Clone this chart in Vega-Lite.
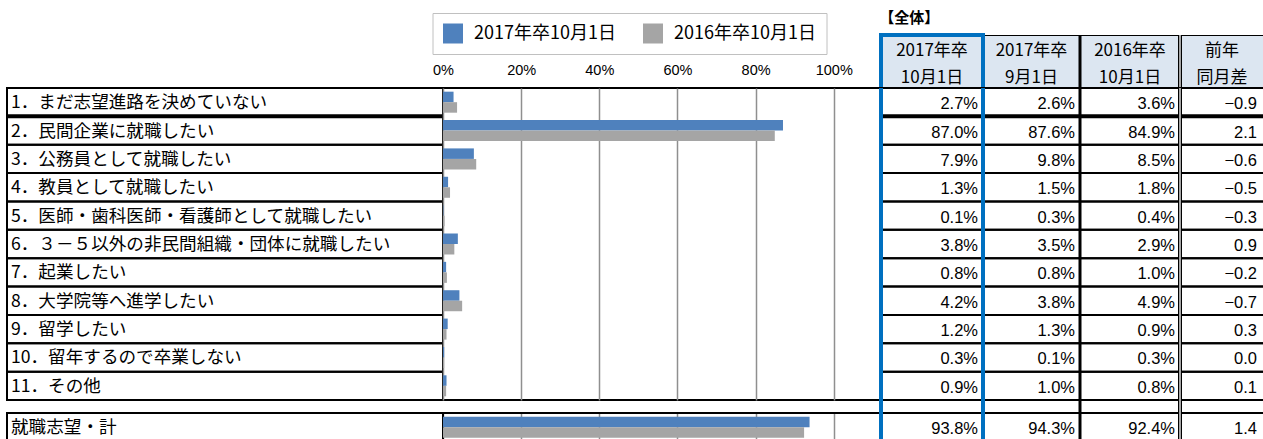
{
  "$schema": "https://vega.github.io/schema/vega-lite/v6.json",
  "background": "white",
  "padding": {"left": 5, "top": 11, "right": 0, "bottom": 0},
  "autosize": {"type": "pad"},
  "config": {"view": {"stroke": null}, "text": {"color": "#000"}},
  "datasets": {
    "items": [
      {"項目": "1．まだ志望進路を決めていない", "2017年卒10月1日": 0.027, "2017年卒9月1日": 0.026, "2016年卒10月1日": 0.036, "前年同月差": -0.9},
      {"項目": "2．民間企業に就職したい", "2017年卒10月1日": 0.870, "2017年卒9月1日": 0.876, "2016年卒10月1日": 0.849, "前年同月差": 2.1},
      {"項目": "3．公務員として就職したい", "2017年卒10月1日": 0.079, "2017年卒9月1日": 0.098, "2016年卒10月1日": 0.085, "前年同月差": -0.6},
      {"項目": "4．教員として就職したい", "2017年卒10月1日": 0.013, "2017年卒9月1日": 0.015, "2016年卒10月1日": 0.018, "前年同月差": -0.5},
      {"項目": "5．医師・歯科医師・看護師として就職したい", "2017年卒10月1日": 0.001, "2017年卒9月1日": 0.003, "2016年卒10月1日": 0.004, "前年同月差": -0.3},
      {"項目": "6．３－５以外の非民間組織・団体に就職したい", "2017年卒10月1日": 0.038, "2017年卒9月1日": 0.035, "2016年卒10月1日": 0.029, "前年同月差": 0.9},
      {"項目": "7．起業したい", "2017年卒10月1日": 0.008, "2017年卒9月1日": 0.008, "2016年卒10月1日": 0.010, "前年同月差": -0.2},
      {"項目": "8．大学院等へ進学したい", "2017年卒10月1日": 0.042, "2017年卒9月1日": 0.038, "2016年卒10月1日": 0.049, "前年同月差": -0.7},
      {"項目": "9．留学したい", "2017年卒10月1日": 0.012, "2017年卒9月1日": 0.013, "2016年卒10月1日": 0.009, "前年同月差": 0.3},
      {"項目": "10．留年するので卒業しない", "2017年卒10月1日": 0.003, "2017年卒9月1日": 0.001, "2016年卒10月1日": 0.003, "前年同月差": 0.0},
      {"項目": "11．その他", "2017年卒10月1日": 0.009, "2017年卒9月1日": 0.010, "2016年卒10月1日": 0.008, "前年同月差": 0.1}
    ],
    "total": [
      {"項目": "就職志望・計", "2017年卒10月1日": 0.938, "2017年卒9月1日": 0.943, "2016年卒10月1日": 0.924, "前年同月差": 1.4}
    ]
  },
  "columns": 6,
  "spacing": 0,
  "bounds": "flush",
  "concat": [
    {"width": 436, "height": 53, "data": {"values": [{}]}, "mark": "text", "encoding": {"text": {"value": ""}}},
    {"width": 438, "height": 53, "data": {"values": [{}]}, "mark": "text", "encoding": {"text": {"value": ""}}},
    {
      "width": 102, "height": 53,
      "view": {"fill": "#DCE6F1"},
      "title": {"text": "【全体】", "anchor": "start", "fontSize": 15, "fontWeight": "bold", "font": "Noto Sans CJK JP", "color": "#000", "baseline": "bottom", "offset": 6, "dx": 1, "dy": 15},
      "data": {"values": [{"見出し": "2017年卒\n10月1日"}]},
      "layer": [
        {"mark": {"type": "text", "lineBreak": "\n", "lineHeight": 27, "fontSize": 17, "font": "Noto Sans CJK JP", "dy": -11}, "encoding": {"text": {"field": "見出し", "type": "nominal"}}},
        {"mark": {"type": "rule", "color": "#0070C0", "strokeWidth": 4, "strokeCap": "square"}, "encoding": {"x": {"value": 0}}},
        {"mark": {"type": "rule", "color": "#0070C0", "strokeWidth": 4, "strokeCap": "square"}, "encoding": {"y": {"value": 0}}}
      ]
    },
    {
      "width": 97, "height": 53,
      "view": {"fill": "#DCE6F1", "stroke": "#000", "strokeWidth": 1},
      "data": {"values": [{"見出し": "2017年卒\n9月1日"}]},
      "layer": [
        {"mark": {"type": "text", "lineBreak": "\n", "lineHeight": 27, "fontSize": 17, "font": "Noto Sans CJK JP", "dy": -11}, "encoding": {"text": {"field": "見出し", "type": "nominal"}}},
        {"mark": {"type": "rule", "color": "#0070C0", "strokeWidth": 4, "strokeCap": "square"}, "encoding": {"x": {"value": 0}}}
      ]
    },
    {
      "width": 100, "height": 53,
      "view": {"fill": "#DCE6F1", "stroke": "#000", "strokeWidth": 1},
      "data": {"values": [{"見出し": "2016年卒\n10月1日"}]},
      "layer": [
        {"mark": {"type": "text", "lineBreak": "\n", "lineHeight": 27, "fontSize": 17, "font": "Noto Sans CJK JP", "dy": -11}, "encoding": {"text": {"field": "見出し", "type": "nominal"}}},
        {"mark": {"type": "rule", "color": "#000", "strokeWidth": 3}, "encoding": {"x": {"value": 0}}}
      ]
    },
    {
      "width": 84, "height": 53,
      "view": {"fill": "#DCE6F1", "stroke": "#000", "strokeWidth": 1},
      "data": {"values": [{"見出し": "前年\n同月差"}]},
      "layer": [
        {"mark": {"type": "text", "lineBreak": "\n", "lineHeight": 27, "fontSize": 17, "font": "Noto Sans CJK JP", "dy": -11}, "encoding": {"text": {"field": "見出し", "type": "nominal"}}},
        {"mark": {"type": "rule", "color": "#000", "strokeWidth": 4}, "encoding": {"x": {"value": 0}}},
        {"mark": {"type": "rule", "color": "#fff", "strokeWidth": 1.3}, "encoding": {"x": {"value": 0}}}
      ]
    },

    {
      "width": 436, "height": 312,
      "data": {"name": "items"},
      "layer": [
        {"mark": {"type": "rect", "fill": "transparent", "stroke": "#000", "strokeWidth": 2},
         "encoding": {"y": {"field": "項目", "type": "nominal", "sort": null, "axis": null, "scale": {"paddingInner": 0, "paddingOuter": 0}}}},
        {"transform": [{"filter": "datum['項目'] === '1．まだ志望進路を決めていない'"}],
         "mark": {"type": "rule", "color": "#000", "strokeWidth": 4},
         "encoding": {"y": {"field": "項目", "type": "nominal", "sort": null, "axis": null, "bandPosition": 1}}},
        {"mark": {"type": "text", "align": "left", "baseline": "middle", "dx": 4, "dy": 1, "fontSize": 17.6, "font": "Noto Sans CJK JP"},
         "encoding": {"y": {"field": "項目", "type": "nominal", "sort": null, "axis": null}, "x": {"value": 0}, "text": {"field": "項目", "type": "nominal"}}}
      ]
    },
    {
      "width": 438, "height": 312,
      "data": {"name": "items"},
      "view": {"stroke": "#000", "strokeWidth": 2},
      "transform": [{"fold": ["2017年卒10月1日", "2016年卒10月1日"], "as": ["系列", "値"]}],
      "mark": {"type": "bar"},
      "encoding": {
        "y": {"field": "項目", "type": "nominal", "sort": null, "axis": null, "scale": {"paddingInner": 0, "paddingOuter": 0}},
        "yOffset": {"field": "系列", "type": "nominal", "sort": ["2017年卒10月1日", "2016年卒10月1日"], "scale": {"paddingInner": 0, "paddingOuter": 0.35}},
        "x": {"field": "値", "type": "quantitative", "scale": {"domain": [0, 1.1208], "nice": false},
              "axis": {"orient": "top", "values": [0, 0.2, 0.4, 0.6, 0.8, 1], "format": "%", "title": null, "domain": false, "ticks": false, "tickSize": 0, "labelPadding": 11, "labelFontSize": 14.5, "labelFont": "Liberation Sans", "labelColor": "#000", "labelFlush": false, "grid": true, "gridColor": "#8f8f8f", "gridWidth": 1.5}},
        "color": {"field": "系列", "type": "nominal", "sort": ["2017年卒10月1日", "2016年卒10月1日"],
                  "scale": {"domain": ["2017年卒10月1日", "2016年卒10月1日"], "range": ["#4F81BD", "#A5A5A5"]},
                  "legend": {"orient": "none", "legendX": 425.5, "legendY": -22, "direction": "horizontal", "title": null, "symbolType": "square", "symbolSize": 400, "symbolStrokeWidth": 0, "labelFontSize": 18, "labelFont": "Noto Sans CJK JP", "labelColor": "#000", "labelOffset": 11, "labelLimit": 400, "padding": 10.5, "columnPadding": 27, "strokeColor": "#c0c0c0", "fillColor": "white", "labelExpr": "datum.value === '2016年卒10月1日' ? datum.label + '\u00a0\u00a0\u00a0\u00a0\u00a0' : datum.label"}}
      }
    },
    {
      "width": 102, "height": 312,
      "data": {"name": "items"},
      "layer": [
        {"mark": {"type": "rect", "fill": "transparent", "stroke": "#000", "strokeWidth": 2},
         "encoding": {"y": {"field": "項目", "type": "nominal", "sort": null, "axis": null, "scale": {"paddingInner": 0, "paddingOuter": 0}}}},
        {"transform": [{"filter": "datum['項目'] === '1．まだ志望進路を決めていない'"}],
         "mark": {"type": "rule", "color": "#000", "strokeWidth": 4},
         "encoding": {"y": {"field": "項目", "type": "nominal", "sort": null, "axis": null, "bandPosition": 1}}},
        {"mark": {"type": "text", "align": "right", "baseline": "middle", "dx": -5, "dy": 2, "fontSize": 16.5, "font": "Liberation Sans"},
         "encoding": {"y": {"field": "項目", "type": "nominal", "sort": null, "axis": null}, "x": {"value": "width"}, "text": {"field": "2017年卒10月1日", "type": "quantitative", "format": ".1%"}}},
        {"data": {"values": [{}]}, "mark": {"type": "rule", "color": "#0070C0", "strokeWidth": 4}, "encoding": {"x": {"value": 0}}}
      ]
    },
    {
      "width": 97, "height": 312,
      "data": {"name": "items"},
      "layer": [
        {"mark": {"type": "rect", "fill": "transparent", "stroke": "#000", "strokeWidth": 2},
         "encoding": {"y": {"field": "項目", "type": "nominal", "sort": null, "axis": null, "scale": {"paddingInner": 0, "paddingOuter": 0}}}},
        {"transform": [{"filter": "datum['項目'] === '1．まだ志望進路を決めていない'"}],
         "mark": {"type": "rule", "color": "#000", "strokeWidth": 4},
         "encoding": {"y": {"field": "項目", "type": "nominal", "sort": null, "axis": null, "bandPosition": 1}}},
        {"mark": {"type": "text", "align": "right", "baseline": "middle", "dx": -5, "dy": 2, "fontSize": 16.5, "font": "Liberation Sans"},
         "encoding": {"y": {"field": "項目", "type": "nominal", "sort": null, "axis": null}, "x": {"value": "width"}, "text": {"field": "2017年卒9月1日", "type": "quantitative", "format": ".1%"}}},
        {"data": {"values": [{}]}, "mark": {"type": "rule", "color": "#0070C0", "strokeWidth": 4}, "encoding": {"x": {"value": 0}}}
      ]
    },
    {
      "width": 100, "height": 312,
      "data": {"name": "items"},
      "layer": [
        {"mark": {"type": "rect", "fill": "transparent", "stroke": "#000", "strokeWidth": 2},
         "encoding": {"y": {"field": "項目", "type": "nominal", "sort": null, "axis": null, "scale": {"paddingInner": 0, "paddingOuter": 0}}}},
        {"transform": [{"filter": "datum['項目'] === '1．まだ志望進路を決めていない'"}],
         "mark": {"type": "rule", "color": "#000", "strokeWidth": 4},
         "encoding": {"y": {"field": "項目", "type": "nominal", "sort": null, "axis": null, "bandPosition": 1}}},
        {"mark": {"type": "text", "align": "right", "baseline": "middle", "dx": -5, "dy": 2, "fontSize": 16.5, "font": "Liberation Sans"},
         "encoding": {"y": {"field": "項目", "type": "nominal", "sort": null, "axis": null}, "x": {"value": "width"}, "text": {"field": "2016年卒10月1日", "type": "quantitative", "format": ".1%"}}},
        {"data": {"values": [{}]}, "mark": {"type": "rule", "color": "#000", "strokeWidth": 3}, "encoding": {"x": {"value": 0}}}
      ]
    },
    {
      "width": 84, "height": 312,
      "data": {"name": "items"},
      "layer": [
        {"mark": {"type": "rect", "fill": "transparent", "stroke": "#000", "strokeWidth": 2},
         "encoding": {"y": {"field": "項目", "type": "nominal", "sort": null, "axis": null, "scale": {"paddingInner": 0, "paddingOuter": 0}}}},
        {"transform": [{"filter": "datum['項目'] === '1．まだ志望進路を決めていない'"}],
         "mark": {"type": "rule", "color": "#000", "strokeWidth": 4},
         "encoding": {"y": {"field": "項目", "type": "nominal", "sort": null, "axis": null, "bandPosition": 1}}},
        {"mark": {"type": "text", "align": "right", "baseline": "middle", "dx": -7, "dy": 2, "fontSize": 16.5, "font": "Liberation Sans"},
         "encoding": {"y": {"field": "項目", "type": "nominal", "sort": null, "axis": null}, "x": {"value": "width"}, "text": {"field": "前年同月差", "type": "quantitative", "format": ".1f"}}},
        {"data": {"values": [{}]}, "mark": {"type": "rule", "color": "#000", "strokeWidth": 4}, "encoding": {"x": {"value": 0}}},
        {"data": {"values": [{}]}, "mark": {"type": "rule", "color": "#fff", "strokeWidth": 1.3}, "encoding": {"x": {"value": 0}}}
      ]
    },

    {
      "width": 436, "height": 41,
      "data": {"name": "total"},
      "layer": [
        {"mark": {"type": "rect", "fill": "transparent", "stroke": "#000", "strokeWidth": 2},
         "encoding": {"y": {"field": "項目", "type": "nominal", "sort": null, "axis": null, "scale": {"range": [13, 41], "paddingInner": 0, "paddingOuter": 0}}}},
        {"mark": {"type": "text", "align": "left", "baseline": "middle", "dx": 4, "dy": 1, "fontSize": 17.6, "font": "Noto Sans CJK JP"},
         "encoding": {"y": {"field": "項目", "type": "nominal", "sort": null, "axis": null}, "x": {"value": 0}, "text": {"field": "項目", "type": "nominal"}}}
      ]
    },
    {
      "width": 438, "height": 41,
      "data": {"name": "total"},
      "layer": [
        {"mark": {"type": "rect", "fill": "transparent", "stroke": "#000", "strokeWidth": 2},
         "encoding": {"y": {"field": "項目", "type": "nominal", "sort": null, "axis": null, "scale": {"range": [13, 41], "paddingInner": 0, "paddingOuter": 0}}}},
        {"transform": [{"fold": ["2017年卒10月1日", "2016年卒10月1日"], "as": ["系列", "値"]}],
         "mark": {"type": "bar"},
         "encoding": {
           "y": {"field": "項目", "type": "nominal", "sort": null, "axis": null},
           "yOffset": {"field": "系列", "type": "nominal", "sort": ["2017年卒10月1日", "2016年卒10月1日"], "scale": {"paddingInner": 0, "paddingOuter": 0.35}},
           "x": {"field": "値", "type": "quantitative", "scale": {"domain": [0, 1.1208], "nice": false},
                 "axis": {"orient": "top", "values": [0, 0.2, 0.4, 0.6, 0.8, 1], "labels": false, "title": null, "domain": false, "ticks": false, "grid": true, "gridColor": "#8f8f8f", "gridWidth": 1.5}},
           "color": {"field": "系列", "type": "nominal", "sort": ["2017年卒10月1日", "2016年卒10月1日"],
                     "scale": {"domain": ["2017年卒10月1日", "2016年卒10月1日"], "range": ["#4F81BD", "#A5A5A5"]}, "legend": null}
         }}
      ]
    },
    {
      "width": 102, "height": 41,
      "data": {"name": "total"},
      "layer": [
        {"mark": {"type": "rect", "fill": "transparent", "stroke": "#000", "strokeWidth": 2},
         "encoding": {"y": {"field": "項目", "type": "nominal", "sort": null, "axis": null, "scale": {"range": [13, 41], "paddingInner": 0, "paddingOuter": 0}}}},
        {"mark": {"type": "text", "align": "right", "baseline": "middle", "dx": -5, "dy": 2, "fontSize": 16.5, "font": "Liberation Sans"},
         "encoding": {"y": {"field": "項目", "type": "nominal", "sort": null, "axis": null}, "x": {"value": "width"}, "text": {"field": "2017年卒10月1日", "type": "quantitative", "format": ".1%"}}},
        {"data": {"values": [{}]}, "mark": {"type": "rule", "color": "#0070C0", "strokeWidth": 4}, "encoding": {"x": {"value": 0}}}
      ]
    },
    {
      "width": 97, "height": 41,
      "data": {"name": "total"},
      "layer": [
        {"mark": {"type": "rect", "fill": "transparent", "stroke": "#000", "strokeWidth": 2},
         "encoding": {"y": {"field": "項目", "type": "nominal", "sort": null, "axis": null, "scale": {"range": [13, 41], "paddingInner": 0, "paddingOuter": 0}}}},
        {"mark": {"type": "text", "align": "right", "baseline": "middle", "dx": -5, "dy": 2, "fontSize": 16.5, "font": "Liberation Sans"},
         "encoding": {"y": {"field": "項目", "type": "nominal", "sort": null, "axis": null}, "x": {"value": "width"}, "text": {"field": "2017年卒9月1日", "type": "quantitative", "format": ".1%"}}},
        {"data": {"values": [{}]}, "mark": {"type": "rule", "color": "#0070C0", "strokeWidth": 4}, "encoding": {"x": {"value": 0}}}
      ]
    },
    {
      "width": 100, "height": 41,
      "data": {"name": "total"},
      "layer": [
        {"mark": {"type": "rect", "fill": "transparent", "stroke": "#000", "strokeWidth": 2},
         "encoding": {"y": {"field": "項目", "type": "nominal", "sort": null, "axis": null, "scale": {"range": [13, 41], "paddingInner": 0, "paddingOuter": 0}}}},
        {"mark": {"type": "text", "align": "right", "baseline": "middle", "dx": -5, "dy": 2, "fontSize": 16.5, "font": "Liberation Sans"},
         "encoding": {"y": {"field": "項目", "type": "nominal", "sort": null, "axis": null}, "x": {"value": "width"}, "text": {"field": "2016年卒10月1日", "type": "quantitative", "format": ".1%"}}},
        {"data": {"values": [{}]}, "mark": {"type": "rule", "color": "#000", "strokeWidth": 3}, "encoding": {"x": {"value": 0}}}
      ]
    },
    {
      "width": 84, "height": 41,
      "data": {"name": "total"},
      "layer": [
        {"mark": {"type": "rect", "fill": "transparent", "stroke": "#000", "strokeWidth": 2},
         "encoding": {"y": {"field": "項目", "type": "nominal", "sort": null, "axis": null, "scale": {"range": [13, 41], "paddingInner": 0, "paddingOuter": 0}}}},
        {"mark": {"type": "text", "align": "right", "baseline": "middle", "dx": -7, "dy": 2, "fontSize": 16.5, "font": "Liberation Sans"},
         "encoding": {"y": {"field": "項目", "type": "nominal", "sort": null, "axis": null}, "x": {"value": "width"}, "text": {"field": "前年同月差", "type": "quantitative", "format": ".1f"}}},
        {"data": {"values": [{}]}, "mark": {"type": "rule", "color": "#000", "strokeWidth": 4}, "encoding": {"x": {"value": 0}}},
        {"data": {"values": [{}]}, "mark": {"type": "rule", "color": "#fff", "strokeWidth": 1.3}, "encoding": {"x": {"value": 0}}}
      ]
    }
  ]
}
